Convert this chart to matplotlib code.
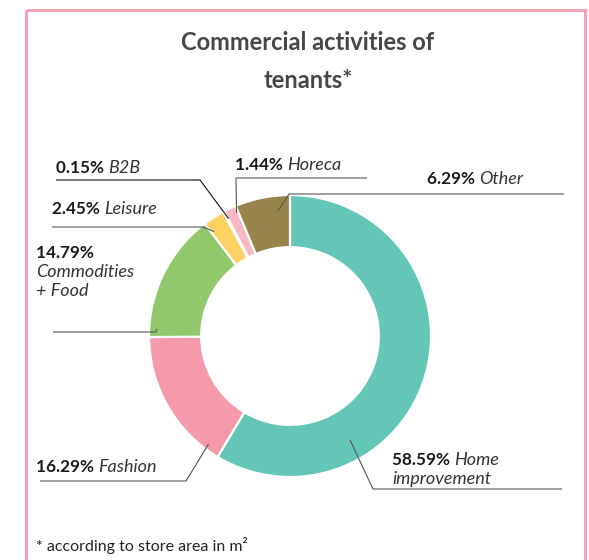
import numpy as np
import matplotlib
matplotlib.use("Agg")
import matplotlib.pyplot as plt
from matplotlib.patches import Rectangle

# data (clockwise from 12 o'clock)
categories = ["Home improvement", "Fashion", "Commodities + Food", "Leisure", "B2B", "Horeca", "Other"]
shares = [58.59, 16.29, 14.79, 2.45, 0.15, 1.44, 6.29]
colors = ["#63C6B6", "#F59AAB", "#90C86B", "#FDD263", "#A9D9EA", "#F7B7C3", "#97844B"]

# label text: (percent, name lines)
label_pct = ["58.59%", "16.29%", "14.79%", "2.45%", "0.15%", "1.44%", "6.29%"]
label_name = [["Home", "improvement"], ["Fashion"], ["", "Commodities", "+ Food"],
              ["Leisure"], ["B2B"], ["Horeca"], ["Other"]]

W, H = 589, 560
cx, cy, R = 290, 336, 141

fig = plt.figure(figsize=(W / 100, H / 100), dpi=100)
fig.patch.set_facecolor("white")

# pie axes sized so that radius 1 == R pixels
ax = fig.add_axes([(cx - R) / W, (H - cy - R) / H, 2 * R / W, 2 * R / H])
ax.pie(shares, colors=colors, startangle=90, counterclock=False, radius=1,
       wedgeprops=dict(width=0.37, edgecolor="white", linewidth=1.6))
ax.set_xlim(-1, 1)
ax.set_ylim(-1, 1)
ax.set_aspect("equal")
ax.axis("off")

# overlay in pixel coords for text and leader lines
ov = fig.add_axes([0, 0, 1, 1], zorder=5)
ov.set_xlim(0, W)
ov.set_ylim(H, 0)
ov.axis("off")
ov.patch.set_alpha(0)

# pink frame
ov.add_patch(Rectangle((26, 10), 559, 600, fill=False, edgecolor="#F4A3B4", linewidth=2.2))

ov.text(308, 42, "Commercial activities of", ha="center", va="center",
        fontsize=17, fontweight="bold", family="Lato", color="#464646")
ov.text(308, 80, "tenants*", ha="center", va="center",
        fontsize=17, fontweight="bold", family="Lato", color="#464646")

ov.text(36, 546, "* according to store area in m²", ha="left", va="center",
        fontsize=11.5, family="Lato", color="#222222")

# label layout: text position, anchor (angle deg, radius frac), leader path
text_pos = [(392, 460), (36, 467), (36, 253), (52, 209), (56, 168), (235, 165), (427, 179)]
anchor = [(-60, 0.85), (-127, 0.96), (177, 0.945), (126, 0.915), (117.6, 0.94), (113.5, 0.95), (95.5, 0.89)]
elbow = [[(373, 489), (562, 489)], [(186, 481), (40, 481)], [(156, 332), (53, 332)],
         [(203, 227), (52, 227)], [(200, 180), (56, 180)], [(236, 178), (367, 178)],
         [(289, 194), (564, 194)]]
line_col = ["#555555", "#555555", "#555555", "#555555", "#111111", "#555555", "#555555"]

fs = 12.3
fs_name = 13
line_h = 19
for i in range(len(categories)):
    a, r = anchor[i]
    ax_x = cx + r * R * np.cos(np.radians(a))
    ax_y = cy - r * R * np.sin(np.radians(a))
    pts = [(ax_x, ax_y)] + elbow[i]
    ov.plot([p[0] for p in pts], [p[1] for p in pts], color=line_col[i], lw=0.8,
            solid_capstyle="butt")

    tx, ty = text_pos[i]
    t = ov.text(tx, ty, label_pct[i] + " ", ha="left", va="center", fontsize=fs,
                fontweight="bold", family="Lato", color="#1a1a1a")
    names = label_name[i]
    if names[0]:
        ov.annotate(names[0], xy=(1, 0), xycoords=t, ha="left", va="bottom",
                    fontsize=fs_name, style="italic", family="Lato", color="#333333")
    for k, nm in enumerate(names[1:]):
        ov.text(tx, ty + line_h * (k + 1), nm, ha="left", va="center", fontsize=fs_name,
                style="italic", family="Lato", color="#333333")

fig.savefig("out.png", dpi=100, facecolor="white")
